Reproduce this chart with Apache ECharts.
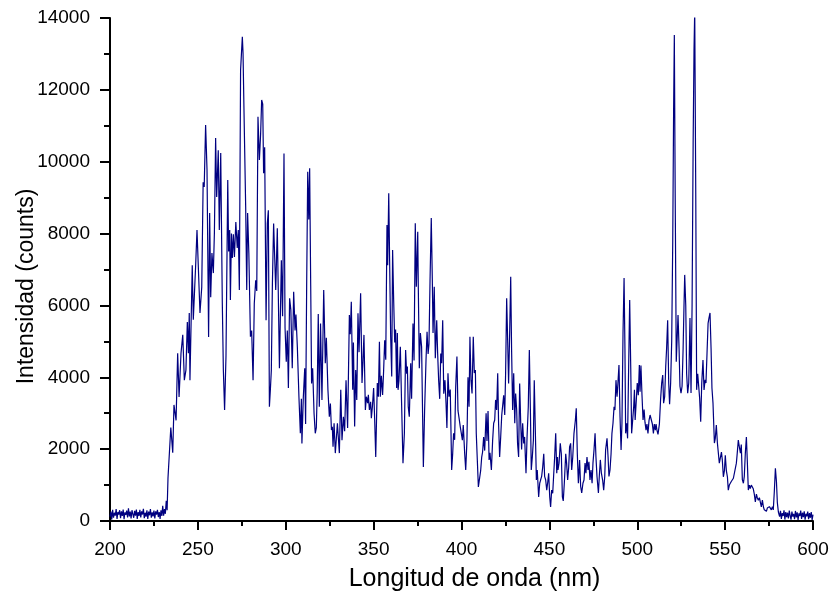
<!DOCTYPE html>
<html>
<head>
<meta charset="utf-8">
<script src="https://cdn.jsdelivr.net/npm/echarts@6/dist/echarts.min.js"></script>
<style>
html,body{margin:0;padding:0;background:#fff;}
#chart{width:833px;height:598px;}
</style>
</head>
<body>
<div id="chart"></div>
<script>
// Axis labels / ranges
const xTitle = 'Longitud de onda (nm)';
const yTitle = 'Intensidad (counts)';
const xRange = [200, 600];
const yRange = [0, 14000];

// Spectrum: [wavelength nm, counts]
const baselineBlue = [
[200,120],[200.5,260],[201,40],[201.5,310],[202,90],[202.5,230],[203,150],[203.5,330],[204,60],[204.5,250],
[205,180],[205.5,300],[206,80],[206.5,270],[207,140],[207.5,320],[208,50],[208.5,240],[209,170],[209.5,290],
[210,100],[210.5,350],[211,130],[211.5,260],[212,70],[212.5,300],[213,190],[213.5,90],[214,280],[214.5,150],
[215,320],[215.5,60],[216,250],[216.5,140],[217,310],[217.5,100],[218,270],[218.5,180],[219,340],[219.5,80],
[220,230],[220.5,120],[221,300],[221.5,60],[222,260],[222.5,160],[223,330],[223.5,90],[224,240],[224.5,130],
[225,290],[225.5,70],[226,270],[226.5,180],[227,310],[227.5,110],[228,250],[228.5,60],[229,300],[229.5,140],
[230,420],[230.5,150],[231,330],[231.5,200],[232,560],[232.5,300]
];
const band233to276 = [
[233,1200],[233.8,1900],[234.6,2600],[235.7,1900],[236.4,3230],[237.6,2800],[238.5,4670],[239.3,3450],
[240.4,4670],[241.4,5180],[242.3,3920],[243.2,4200],[244,5540],[244.6,4670],[245.1,5790],[245.5,3920],
[246.8,7120],[247.4,5600],[248.7,7070],[249.5,8100],[251.2,5790],[252.2,6510],[253,9430],[253.6,9300],
[254.4,11020],[255.2,9770],[256.1,5120],[256.7,8570],[257.3,6230],[258,7460],[258.8,6900],[259.4,8020],
[260.1,10660],[260.7,9020],[261.6,10320],[262.2,8100],[263,10240],[263.9,6070],[264.5,4200],[265.2,3090],
[266,4600],[267,9490],[267.5,7500],[268.1,8100],[268.5,6150],[269.1,8000],[269.6,7320],[270.2,7980],
[270.8,7350],[271.6,8320],[272.4,7600],[273,8100],[273.6,6430],[274.3,12550],[275.3,13480],[275.7,13020],
[276.2,11530]
];
const band277to318 = [
[277.2,8740],[277.8,6430],[278.3,8570],[279,7460],[279.9,5130],[280.6,5300],[281.4,3920],[282.1,6060],
[282.9,6700],[283.5,6400],[284.2,11250],[285,10050],[285.7,10770],[286.3,11720],[286.9,11600],[287.4,9680],
[288,10400],[288.8,5590],[289.5,8280],[290.1,8650],[290.7,3180],[291.3,3700],[291.8,4200],[292.4,6600],
[293.1,8280],[294.3,6430],[295.2,8150],[296.4,4250],[297.5,7260],[298.2,5700],[299,10230],[299.6,5380],
[300.3,4430],[300.9,5300],[301.5,3700],[302.2,6200],[302.9,5880],[303.7,4250],[304.5,6380],[305.3,5300],
[305.8,5750],[306.6,4840],[307.5,3460],[308.3,2440],[308.9,3400],[309.2,2160],[310,3450],[310.8,4250],
[311.3,2700],[311.9,6550],[312.5,9720],[313.1,8390],[313.6,9820],[314.2,6550],[314.7,3830],[315.3,4250],
[316.1,3000],[316.8,2440],[317.4,2600],[317.9,3600]
];
const band318to363 = [
[318.5,5760],[319.1,3180],[319.8,5500],[320.6,3370],[321.6,6430],[322.5,4390],[323.1,5100],[324,3650],
[324.8,2900],[325.4,3270],[326,2530],[326.5,2620],[326.9,2070],[327.5,2720],[328.2,1890],[329.4,2720],
[330.5,1890],[331.3,3650],[332,2250],[332.8,2900],[333.5,2500],[334.3,3920],[335.2,2590],[336.2,5730],
[336.7,5200],[337.3,6100],[338.1,3650],[338.5,4970],[339.2,2630],[339.8,4200],[340.4,3370],[341.1,5780],
[341.7,4700],[342.6,6340],[343.4,3840],[343.9,4390],[344.5,5180],[345.3,3090],[345.9,3460],[346.6,3280],
[347,3510],[347.6,3090],[348.3,3320],[348.7,2860],[349.3,3180],[350,3700],[350.6,2820],[351.2,1780],
[352.1,3840],[352.7,3460],[353.3,4990],[353.8,3460],[354.4,4040],[355.1,3510],[355.7,4200],[356.3,5030],
[356.9,4490],[357.6,8240],[358,7120],[358.6,9120],[359.1,7250],[359.7,5130],[360.3,4020],[360.8,7540],
[361.4,6150],[362,4970],[362.5,5330],[363.1,3700]
];
const band363to410 = [
[363.5,5230],[363.9,3650],[364.4,3900],[365.2,4850],[365.9,3300],[366.7,1610],[367.5,2440],[368.2,4760],
[368.8,4100],[369.2,4300],[369.7,3180],[370.3,2900],[371.1,4390],[371.6,3400],[372.4,5500],[373,4470],
[373.7,8290],[374.3,6520],[375.1,8050],[375.4,6600],[376,4250],[376.6,5230],[377.3,4850],[378.3,1500],
[379,3070],[379.8,4470],[380.4,5270],[381,4650],[381.5,4930],[382.1,6700],[382.8,8430],[383.4,6700],
[383.8,5230],[384.5,6520],[385.1,4530],[385.9,5590],[386.4,4700],[387,3920],[387.6,3400],[388.2,4660],
[388.7,4390],[389.3,5590],[389.9,3540],[390.6,3920],[391.2,3270],[391.7,2590],[392.3,4110],[392.9,3460],
[393.6,3660],[394.4,1420],[395,1890],[395.5,2440],[396.1,2260],[396.7,3730],[397.4,4580],[398,3070],
[398.8,2800],[399.3,2620],[399.9,2440],[400.5,2250],[401,2670],[401.8,1890],[402.4,1420],[403.1,2250],
[403.7,4000],[404.3,3180],[404.8,5130],[405.4,3920],[406,3550],[406.7,5130],[407.3,4120],[407.9,4200],
[408.4,2440],[409,1700],[409.6,950],[410.3,1000]
];
const band411to456 = [
[410.9,1400],[411.5,1780],[412,1920],[412.6,2340],[413.2,1960],[414,3000],[414.5,2230],[415.1,3060],
[415.7,1700],[416.2,1900],[417,1420],[417.7,2230],[418.3,2720],[418.9,2810],[419.4,3370],[420,3090],
[420.6,4110],[421.1,2720],[421.7,1780],[422.3,2340],[422.9,2950],[423.4,3000],[424,3500],[424.6,2950],
[425.1,4110],[425.7,6200],[426.3,4950],[426.8,3830],[427.4,5220],[428,6800],[428.5,4770],[429.1,3090],
[429.7,4110],[430.3,2720],[430.8,3550],[431.4,3090],[431.9,2160],[432.5,1780],[433.1,3830],[433.7,2720],
[434.2,1990],[434.8,2720],[435.4,2160],[435.9,2340],[436.7,1330],[437.3,2340],[438,3180],[438.6,4760],
[439.2,3090],[439.7,1420],[440.3,1780],[440.9,2250],[441.4,3920],[442,2540],[442.6,1140],[443.1,1420],
[443.9,670],[444.5,1050],[445,1140],[445.6,1240],[446.2,1500],[446.8,1870],[447.3,1240],[447.9,1140],
[448.5,860],[449,1050],[449.6,1330],[450.2,670],[450.7,390],[451.3,860],[451.9,770],[452.4,1240],
[453,1780],[453.6,2440],[454.2,1330],[454.6,1780],[454.9,1420],[455.5,1610]
];
const band456to503 = [
[456.2,2160],[456.8,1870],[457.4,670],[457.9,560],[458.5,1050],[459.3,1870],[459.8,1610],[460.4,1140],
[461,1500],[461.5,2060],[462.1,2160],[462.7,1420],[463.3,1780],[464,2440],[464.8,2810],[465.3,3140],
[465.9,1870],[466.5,1050],[467.2,1700],[467.8,960],[468.4,780],[469.1,1050],[469.7,1140],[470.3,1610],
[470.8,1330],[471.4,1780],[472,1420],[472.5,1650],[473.1,1140],[473.7,1420],[474.3,1050],[474.8,1610],
[475.4,1980],[476,2440],[476.5,1780],[477.1,1240],[477.9,780],[478.4,1240],[479,1700],[479.6,1330],
[480.3,1140],[480.9,860],[481.5,1240],[482,1980],[482.8,2300],[483.4,1780],[483.9,1240],[484.5,1420],
[485.1,1870],[485.6,2440],[486.2,2720],[486.8,3180],[487.3,3090],[487.9,3920],[488.5,3460],[489,3830],
[489.6,4340],[490.2,2900],[490.8,1980],[491.3,2720],[491.9,5230],[492.5,6760],[493,4770],[493.4,2440],
[494,2720],[494.5,2300],[495.1,4260],[495.7,6150],[496.3,4260],[496.8,2440],[497.4,2810],[498,3200],
[498.4,3650],[498.8,2810],[499.5,3400],[500,3840],[500.6,3500],[501.2,4340],[501.6,3600],[502.1,4330],
[502.7,3500]
];
const band503to543 = [
[503.3,2810],[503.9,3100],[504.4,2750],[505,2530],[505.5,2700],[506.1,2440],[506.7,2800],[507.3,2950],
[507.9,2950],[508.6,2700],[509.2,2440],[509.7,2700],[510.3,2530],[510.7,2700],[511.2,2530],[511.8,2410],
[512.6,2700],[513.3,3400],[513.9,3840],[514.5,4060],[515,3280],[515.6,3460],[516.2,4300],[516.7,4800],
[517.3,5590],[517.9,3840],[518.4,3250],[519,3840],[519.6,5000],[520.2,7800],[520.7,11500],[521.1,13530],
[521.6,9000],[522.2,4430],[522.8,5200],[523.2,5730],[523.8,4800],[524.3,3750],[524.9,3560],[525.5,3750],
[526.1,4800],[526.6,6000],[527,6850],[527.6,6000],[528.1,4100],[528.7,3560],[529.3,3840],[530,5650],
[530.6,3560],[531.2,6000],[531.8,10500],[532.3,13100],[532.7,14220],[533.3,9000],[533.8,3650],[534.4,4100],
[535,4060],[535.5,3420],[536.1,2760],[536.7,3840],[537.4,4480],[538,3650],[538.6,3930],[539.1,3840],
[539.7,4670],[540.3,5500],[540.8,5650],[541.4,5790],[542,4800],[542.5,3700],[543.1,3280]
];
const band543to580 = [
[543.9,2170],[544.4,2300],[545,2670],[545.6,2170],[546.1,2200],[546.7,1610],[547.3,1650],[547.9,1920],
[548.4,1700],[549,1230],[549.6,1400],[550.1,1830],[550.7,1400],[551.3,1230],[551.8,860],[552.4,1000],
[553,1050],[553.5,1100],[554.1,1140],[554.7,1190],[555.2,1230],[555.8,1190],[556.4,1610],[556.9,1890],
[557.5,2250],[558.1,2060],[558.7,1890],[559.2,2130],[559.8,1150],[560.4,1050],[560.9,1240],[561.5,1890],
[562.1,2340],[562.6,1700],[563.2,860],[563.8,1000],[564.3,900],[564.9,1000],[565.5,950],[566,900],
[566.6,750],[567.2,530],[567.8,750],[568.3,650],[568.9,580],[569.5,650],[570,530],[570.6,390],
[571.2,580],[571.8,390],[572.3,310],[572.9,360],[573.5,270],[574,360],[574.6,360],[575.2,400],
[575.8,360],[576.3,310],[576.9,400],[577.4,310],[578,830],[578.6,1470],[579.2,1100],[579.7,520],
[580.3,250]
];
const baselineRed = [
[581,120],[581.5,280],[582,60],[582.5,220],[583,140],[583.5,300],[584,40],[584.5,250],[585,110],[585.5,230],
[586,70],[586.5,290],[587,150],[587.5,40],[588,260],[588.5,120],[589,200],[589.5,50],[590,280],[590.5,100],
[591,240],[591.5,30],[592,210],[592.5,140],[593,290],[593.5,60],[594,230],[594.5,110],[595,270],[595.5,40],
[596,200],[596.5,130],[597,260],[597.5,50],[598,220],[598.5,90],[599,250],[599.5,30],[600,180]
];

const spectrum = [].concat(baselineBlue, band233to276, band277to318, band318to363, band363to410,
  band411to456, band456to503, band503to543, band543to580, baselineRed);

const FONT = "'Liberation Sans', Arial, sans-serif";
const chart = echarts.init(document.getElementById('chart'), null, {renderer: 'canvas'});
chart.setOption({
  backgroundColor: '#ffffff',
  animation: false,
  grid: {left: 110, right: 20, top: 18, bottom: 77, containLabel: false, outerBoundsMode: 'none'},
  xAxis: {
    type: 'value', min: xRange[0], max: xRange[1], interval: 50,
    name: xTitle, nameLocation: 'middle', nameGap: 46, nameMoveOverlap: false,
    nameTextStyle: {fontFamily: FONT, fontSize: 25, color: '#000', padding: [0, 0, 0, 26]},
    axisLine: {show: true, onZero: false, lineStyle: {color: '#000', width: 2}},
    axisTick: {show: true, inside: false, length: 9, lineStyle: {color: '#000', width: 2}},
    minorTick: {show: true, splitNumber: 2, length: 5, lineStyle: {color: '#000', width: 2}},
    axisLabel: {fontFamily: FONT, fontSize: 19, color: '#000', margin: 19, formatter: v => String(v)},
    splitLine: {show: false}
  },
  yAxis: {
    type: 'value', min: yRange[0], max: yRange[1], interval: 2000,
    name: yTitle, nameLocation: 'middle', nameGap: 72, nameRotate: 90, nameMoveOverlap: false,
    nameTextStyle: {fontFamily: FONT, fontSize: 23, color: '#000', padding: [0, 34, 0, 0]},
    axisLine: {show: true, onZero: false, lineStyle: {color: '#000', width: 2}},
    axisTick: {show: true, inside: false, length: 10, lineStyle: {color: '#000', width: 2}},
    minorTick: {show: true, splitNumber: 2, length: 6, lineStyle: {color: '#000', width: 2}},
    axisLabel: {fontFamily: FONT, fontSize: 19, color: '#000', margin: 20, formatter: v => String(v)},
    splitLine: {show: false}
  },
  series: [{
    type: 'line',
    data: spectrum,
    showSymbol: false,
    symbol: 'none',
    lineStyle: {color: '#000080', width: 1.2},
    clip: true
  }]
});
</script>
</body>
</html>
